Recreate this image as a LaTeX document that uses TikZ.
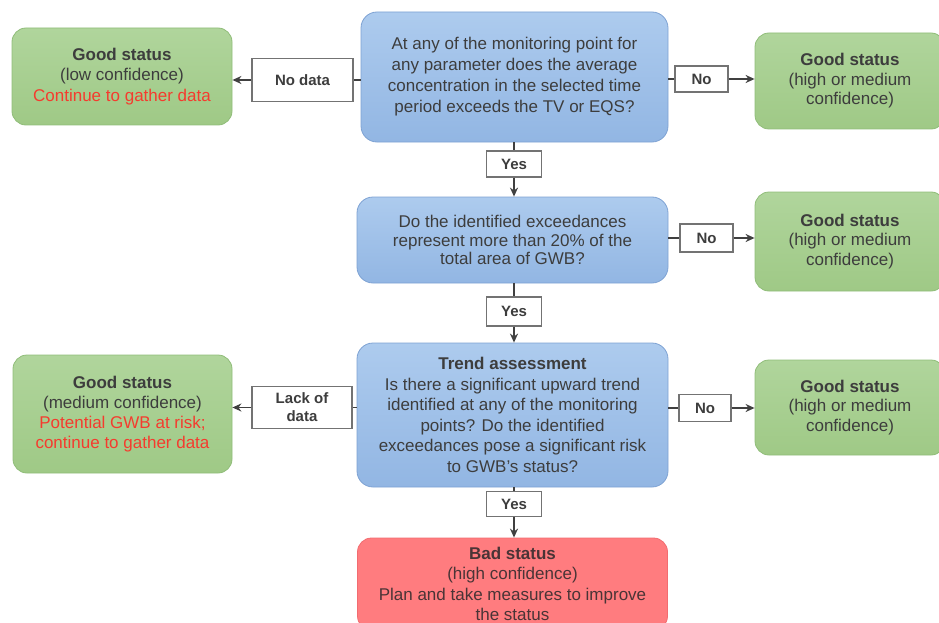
\documentclass[tikz,border=0pt]{standalone}
\usepackage{fontspec}
\setmainfont{Liberation Sans}
\usetikzlibrary{arrows.meta}
\definecolor{txt}{HTML}{3D3D3D}
\definecolor{redtxt}{HTML}{F53B2E}
\definecolor{bluetop}{HTML}{ADCBEE}
\definecolor{bluebot}{HTML}{92B6E3}
\definecolor{blueedge}{HTML}{7EA2D3}
\definecolor{greentop}{HTML}{B0D59C}
\definecolor{greenbot}{HTML}{9FC986}
\definecolor{greenedge}{HTML}{90BD79}
\definecolor{redfill}{HTML}{FF7C7F}
\definecolor{rededge}{HTML}{F26C70}
\definecolor{badtxt}{HTML}{4A3436}
\tikzset{
  base/.style={align=center, text=txt, inner sep=0pt},
  body/.style={font=\fontsize{17}{#1}\selectfont},
  body/.default=20.5,
  question/.style={base, rounded corners=16pt, top color=bluetop, bottom color=bluebot, draw=blueedge, line width=0.8pt},
  goodbox/.style={base, body, rounded corners=14pt, top color=greentop, bottom color=greenbot, draw=greenedge, line width=0.8pt},
  badbox/.style={base, body, rounded corners=14pt, fill=redfill, draw=rededge, line width=0.8pt, text=badtxt},
  tag/.style={base, fill=white, draw=black!55, line width=1.3pt, font=\bfseries\fontsize{15}{19}\selectfont},
  link/.style={draw=black!75, line width=1.5pt},
  arrow/.style={link, -{Stealth[length=9pt,width=8pt]}}
}
\begin{document}
\begin{tikzpicture}[x=1pt,y=-1pt]
\useasboundingbox (0,0) rectangle (939,623);
\clip (0,0) rectangle (939,623);

% decision boxes
\node[question, body=21, minimum width=307, minimum height=130] (q1) at (514.5,77)
  {At any of the monitoring point for\\any parameter does the average\\concentration in the selected time\\period exceeds the TV or EQS?};
\node[question, body=18.5, minimum width=311, minimum height=86] (q2) at (512.5,240)
  {Do the identified exceedances\\represent more than 20\% of the\\total area of GWB?};
\node[question, body=20.5, minimum width=311, minimum height=144] (q3) at (512.5,415)
  {\textbf{Trend assessment}\\Is there a significant upward trend\\identified at any of the monitoring\\points? Do the identified\\exceedances pose a significant risk\\to GWB's status?};

% outcome boxes
\node[goodbox, minimum width=220, minimum height=97] (g1) at (122,76.5)
  {\textbf{Good status}\\(low confidence)\\\textcolor{redtxt}{Continue to gather data}};
\node[goodbox, body=19.5, minimum width=190, minimum height=96] (g2) at (850,81)
  {\textbf{Good status}\\(high or medium\\confidence)};
\node[goodbox, body=19.5, minimum width=190, minimum height=99] (g3) at (850,241.5)
  {\textbf{Good status}\\(high or medium\\confidence)};
\node[goodbox, body=20, minimum width=219, minimum height=118] (g4) at (122.5,414)
  {\textbf{Good status}\\(medium confidence)\\\textcolor{redtxt}{Potential GWB at risk;}\\\textcolor{redtxt}{continue to gather data}};
\node[goodbox, body=19.5, minimum width=190, minimum height=95] (g5) at (850,407.5)
  {\textbf{Good status}\\(high or medium\\confidence)};
\node[badbox, minimum width=310, minimum height=92] (bad) at (512.5,584)
  {\textbf{Bad status}\\(high confidence)\\Plan and take measures to improve\\the status};

% answer tags
\node[tag, minimum width=101, minimum height=43] (t1) at (302.5,80) {No data};
\node[tag, minimum width=53, minimum height=26] (t2) at (701.5,79) {No};
\node[tag, minimum width=55, minimum height=26] (t3) at (514,164) {Yes};
\node[tag, minimum width=53, minimum height=28] (t4) at (706.5,238) {No};
\node[tag, minimum width=55, minimum height=29] (t5) at (514,311.5) {Yes};
\node[tag, minimum width=100, minimum height=42, font=\bfseries\fontsize{15}{18}\selectfont] (t6) at (302,407.5) {Lack of\\data};
\node[tag, minimum width=52, minimum height=27] (t7) at (705,408) {No};
\node[tag, minimum width=55, minimum height=25] (t8) at (514,504) {Yes};

% connectors: decision -> tag -> outcome
\draw[link] (q1.west |- t1) -- (t1.east);
\draw[arrow] (t1.west) -- (g1.east |- t1);
\draw[link] (q1.east |- t2) -- (t2.west);
\draw[arrow] (t2.east) -- (g2.west |- t2);
\draw[link] (t3 |- q1.south) -- (t3.north);
\draw[arrow] (t3.south) -- (t3 |- q2.north);
\draw[link] (q2.east |- t4) -- (t4.west);
\draw[arrow] (t4.east) -- (g3.west |- t4);
\draw[link] (t5 |- q2.south) -- (t5.north);
\draw[arrow] (t5.south) -- (t5 |- q3.north);
\draw[link] (q3.west |- t6) -- (t6.east);
\draw[arrow] (t6.west) -- (g4.east |- t6);
\draw[link] (q3.east |- t7) -- (t7.west);
\draw[arrow] (t7.east) -- (g5.west |- t7);
\draw[link] (t8 |- q3.south) -- (t8.north);
\draw[arrow] (t8.south) -- (t8 |- bad.north);
\end{tikzpicture}
\end{document}
